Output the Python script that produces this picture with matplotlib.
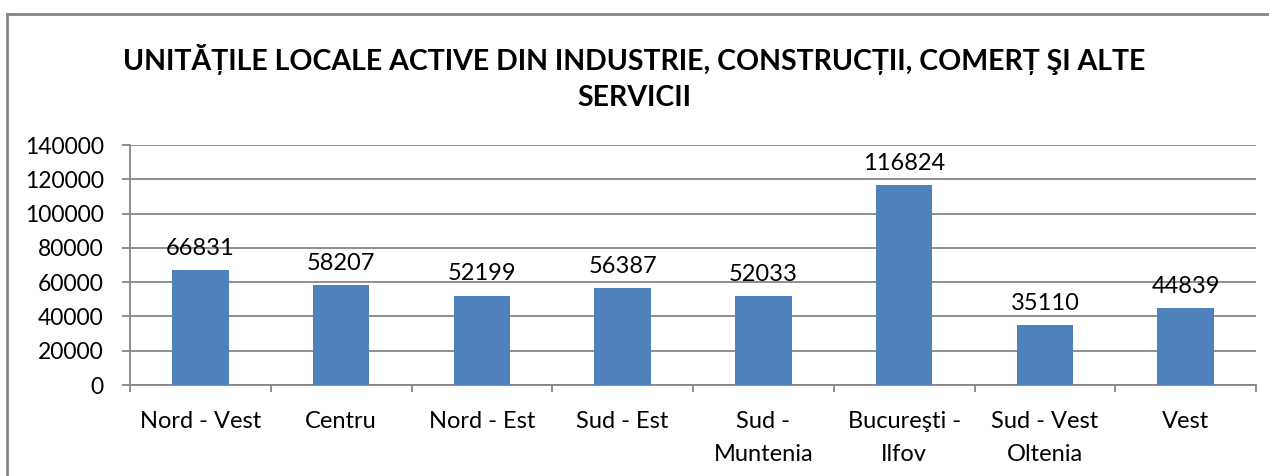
import numpy as np
import matplotlib.pyplot as plt
from matplotlib.lines import Line2D

plt.rcParams['font.family'] = ['Lato', 'DejaVu Sans']

# Regions and number of active local units
regions = ["Nord - Vest", "Centru", "Nord - Est", "Sud - Est", "Sud -\nMuntenia",
           "Bucureşti -\nIlfov", "Sud - Vest\nOltenia", "Vest"]
units = [66831, 58207, 52199, 56387, 52033, 116824, 35110, 44839]
y_ticks = [0, 20000, 40000, 60000, 80000, 100000, 120000, 140000]

title = "UNITĂȚILE LOCALE ACTIVE DIN INDUSTRIE, CONSTRUCȚII, COMERȚ ŞI ALTE\nSERVICII"

grid_col = "#868686"
bar_col = "#4F81BD"

fig = plt.figure(figsize=(12.69, 4.76), dpi=100)
ax = fig.add_axes([130 / 1269, 91 / 476, 1126 / 1269, 240 / 476])

x = np.arange(len(regions))
bars = ax.bar(x, units, width=0.4, color=bar_col, zorder=3)

for xi, v in zip(x, units):
    ax.annotate(str(v), (xi, v), xytext=(0, 8), textcoords="offset points",
                ha="center", va="bottom", fontsize=17)

ax.set_xlim(-0.5, len(regions) - 0.5)
ax.set_ylim(0, 140000)
ax.set_yticks(y_ticks)
ax.set_yticklabels([str(t) for t in y_ticks], fontsize=16.5)
ax.set_xticks(x)
ax.set_xticklabels(regions, fontsize=17, linespacing=1.7)
ax.tick_params(axis="x", which="major", length=0, pad=19)
ax.set_xticks(np.arange(-0.5, len(regions)), minor=True)
ax.tick_params(axis="x", which="minor", length=5, width=1.3, color=grid_col)
ax.tick_params(axis="y", length=6, width=1.3, color=grid_col, pad=13)

ax.yaxis.grid(True, color=grid_col, linewidth=1.3, zorder=0)
for s in ["top", "right"]:
    ax.spines[s].set_visible(False)
for s in ["left", "bottom"]:
    ax.spines[s].set_color(grid_col)
    ax.spines[s].set_linewidth(1.3)

fig.text(634 / 1269, 1 - 77.5 / 476, title, ha="center", va="center",
         fontsize=20.5, fontweight="bold", linespacing=1.45)

# outer chart border (cropped on the right and bottom)
fig.add_artist(Line2D([7 / 1269, 1.0], [1 - 14 / 476] * 2, color=grid_col, lw=2,
                      transform=fig.transFigure))
fig.add_artist(Line2D([7 / 1269] * 2, [0, 1 - 14 / 476], color=grid_col, lw=2,
                      transform=fig.transFigure))

fig.savefig("out.png", dpi=100)
